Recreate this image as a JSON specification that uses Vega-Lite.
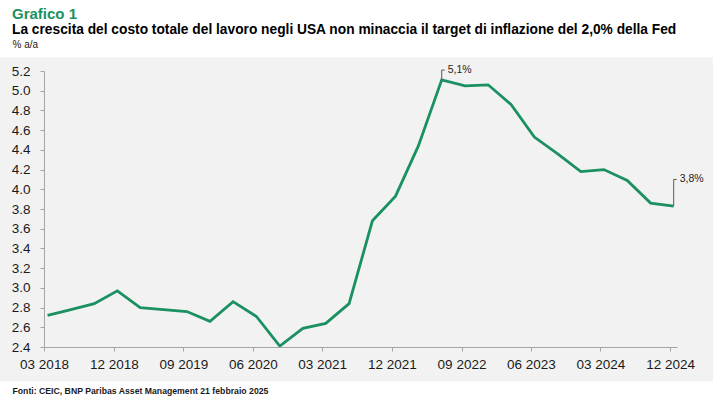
{
  "$schema": "https://vega.github.io/schema/vega-lite/v6.json",
  "width": 633,
  "height": 276,
  "autosize": {"type": "none"},
  "padding": {"left": 44, "top": 71, "right": 48, "bottom": 56},
  "background": "white",
  "config": {
    "view": {"stroke": null},
    "font": "Liberation Sans"
  },
  "title": {
    "text": "Grafico 1",
    "subtitle": "La crescita del costo totale del lavoro negli USA non minaccia il target di inflazione del 2,0% della Fed",
    "anchor": "start",
    "frame": "group",
    "dx": -32,
    "offset": 2,
    "font": "Liberation Sans",
    "fontSize": 15,
    "fontWeight": "bold",
    "color": "#1b9060",
    "subtitleFont": "Liberation Sans",
    "subtitleFontSize": 13.75,
    "subtitleFontWeight": "bold",
    "subtitleColor": "#000000",
    "subtitlePadding": 1
  },
  "datasets": {
    "panel": [{"date": "2017-09-08", "date2": "2025-05-19", "value": 2.05, "value2": 5.34}],
    "series": [
      {"date": "2018-03-15", "value": 2.72},
      {"date": "2018-06-15", "value": 2.78},
      {"date": "2018-09-15", "value": 2.84},
      {"date": "2018-12-15", "value": 2.97},
      {"date": "2019-03-15", "value": 2.80},
      {"date": "2019-06-15", "value": 2.78},
      {"date": "2019-09-15", "value": 2.76},
      {"date": "2019-12-15", "value": 2.66},
      {"date": "2020-03-15", "value": 2.86},
      {"date": "2020-06-15", "value": 2.71},
      {"date": "2020-09-15", "value": 2.41},
      {"date": "2020-12-15", "value": 2.59},
      {"date": "2021-03-15", "value": 2.64},
      {"date": "2021-06-15", "value": 2.84},
      {"date": "2021-09-15", "value": 3.68},
      {"date": "2021-12-15", "value": 3.93},
      {"date": "2022-03-15", "value": 4.44},
      {"date": "2022-06-15", "value": 5.11},
      {"date": "2022-09-15", "value": 5.05},
      {"date": "2022-12-15", "value": 5.06},
      {"date": "2023-03-15", "value": 4.86},
      {"date": "2023-06-15", "value": 4.53},
      {"date": "2023-09-15", "value": 4.36},
      {"date": "2023-12-15", "value": 4.18},
      {"date": "2024-03-15", "value": 4.20},
      {"date": "2024-06-15", "value": 4.09},
      {"date": "2024-09-15", "value": 3.86},
      {"date": "2024-12-15", "value": 3.83}
    ],
    "leaders": [
      {"id": "a", "ord": 1, "date": "2022-06-15", "value": 5.11},
      {"id": "a", "ord": 2, "date": "2022-06-15", "value": 5.21},
      {"id": "a", "ord": 3, "date": "2022-06-27", "value": 5.21},
      {"id": "b", "ord": 1, "date": "2024-12-15", "value": 3.83},
      {"id": "b", "ord": 2, "date": "2024-12-15", "value": 4.10},
      {"id": "b", "ord": 3, "date": "2024-12-27", "value": 4.10}
    ],
    "labels": [
      {"date": "2022-06-27", "value": 5.21, "label": "5,1%"},
      {"date": "2024-12-27", "value": 4.10, "label": "3,8%"}
    ]
  },
  "encoding": {
    "x": {
      "field": "date",
      "type": "temporal",
      "scale": {
        "type": "utc",
        "domain": [
          {"year": 2018, "month": 3, "date": 1, "utc": true},
          {"year": 2024, "month": 12, "date": 28, "utc": true}
        ]
      },
      "axis": {
        "values": [
          {"year": 2018, "month": 3, "date": 1, "utc": true},
          {"year": 2018, "month": 12, "date": 1, "utc": true},
          {"year": 2019, "month": 9, "date": 1, "utc": true},
          {"year": 2020, "month": 6, "date": 1, "utc": true},
          {"year": 2021, "month": 3, "date": 1, "utc": true},
          {"year": 2021, "month": 12, "date": 1, "utc": true},
          {"year": 2022, "month": 9, "date": 1, "utc": true},
          {"year": 2023, "month": 6, "date": 1, "utc": true},
          {"year": 2024, "month": 3, "date": 1, "utc": true},
          {"year": 2024, "month": 12, "date": 1, "utc": true}
        ],
        "labelExpr": "utcFormat(datum.value, '%m %Y')",
        "grid": false,
        "zindex": 1,
        "domainColor": "#a6a6a6",
        "tickColor": "#a6a6a6",
        "tickSize": 4,
        "labelPadding": 6,
        "labelFontSize": 13.5,
        "labelColor": "#1a1a1a",
        "labelFlush": false,
        "labelOverlap": false,
        "title": "Fonti: CEIC, BNP Paribas Asset Management  21 febbraio 2025",
        "titleFont": "Liberation Sans",
        "titleFontSize": 8.7,
        "titleFontWeight": "bold",
        "titleColor": "#1a1a1a",
        "titleAlign": "left",
        "titleAnchor": "start",
        "titleBaseline": "alphabetic",
        "titleX": -32,
        "titleY": 46
      }
    },
    "y": {
      "field": "value",
      "type": "quantitative",
      "scale": {"domain": [2.4, 5.2], "zero": false, "nice": false},
      "axis": {
        "values": [2.4, 2.6, 2.8, 3.0, 3.2, 3.4, 3.6, 3.8, 4.0, 4.2, 4.4, 4.6, 4.8, 5.0, 5.2],
        "labelExpr": "format(datum.value, '.1f')",
        "grid": false,
        "zindex": 1,
        "domainColor": "#a6a6a6",
        "tickColor": "#a6a6a6",
        "tickSize": 4,
        "labelPadding": 10,
        "labelFontSize": 13.5,
        "labelColor": "#1a1a1a",
        "labelFlush": false,
        "labelOverlap": false,
        "title": "% a/a",
        "titleFont": "Liberation Sans",
        "titleFontSize": 10,
        "titleFontWeight": "normal",
        "titleColor": "#1a1a1a",
        "titleAngle": 0,
        "titleAlign": "left",
        "titleBaseline": "alphabetic",
        "titleX": -32,
        "titleY": -24
      }
    }
  },
  "layer": [
    {
      "data": {"name": "panel"},
      "mark": {"type": "rect", "color": "#f2f2f2", "clip": false},
      "encoding": {
        "x2": {"field": "date2"},
        "y2": {"field": "value2"}
      }
    },
    {
      "data": {"name": "series"},
      "mark": {"type": "line", "color": "#1b9060", "strokeWidth": 2.8, "strokeJoin": "miter", "clip": false}
    },
    {
      "data": {"name": "leaders"},
      "mark": {"type": "line", "color": "#595959", "strokeWidth": 1, "clip": false},
      "encoding": {
        "detail": {"field": "id", "type": "nominal"},
        "order": {"field": "ord", "type": "quantitative"}
      }
    },
    {
      "data": {"name": "labels"},
      "mark": {"type": "text", "align": "left", "baseline": "middle", "dx": 3, "fontSize": 10.5, "color": "#262626", "clip": false},
      "encoding": {
        "text": {"field": "label"}
      }
    }
  ]
}
